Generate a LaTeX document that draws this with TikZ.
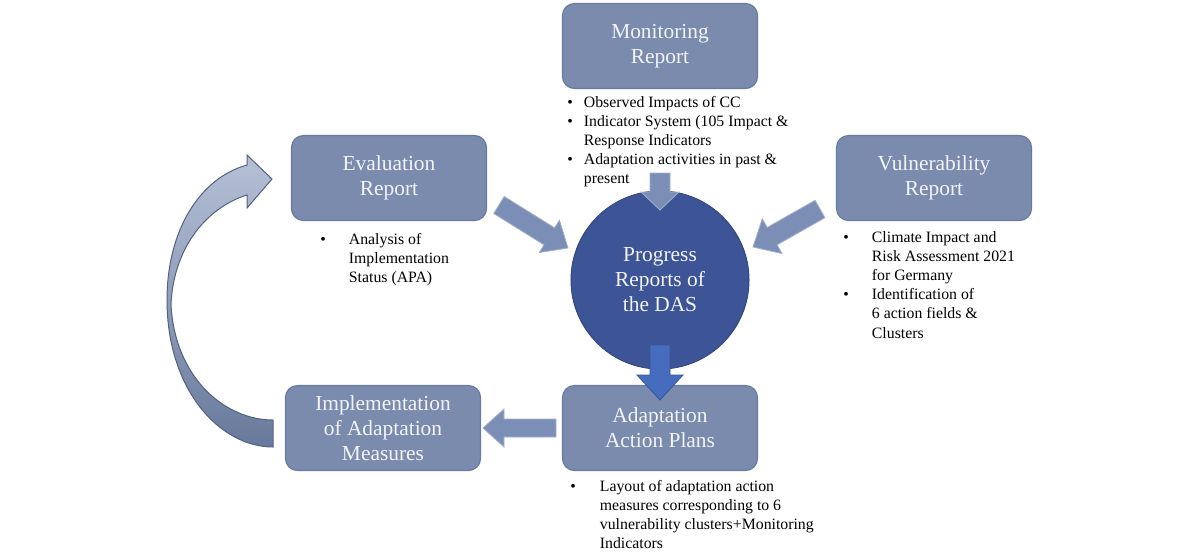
\documentclass[tikz,border=0pt]{standalone}
\usepackage{fontspec}
\setmainfont{Liberation Serif}
\usetikzlibrary{calc}
\definecolor{boxblue}{RGB}{122,139,174}
\definecolor{boxedge}{RGB}{104,123,163}
\definecolor{hubblue}{RGB}{61,84,150}
\definecolor{arrowblue}{RGB}{122,142,182}
\definecolor{downblue}{RGB}{70,108,190}
\definecolor{boxtext}{RGB}{242,244,248}
\tikzset{
  report/.style={
    rectangle,
    rounded corners=6pt,
    fill=boxblue,
    draw=boxedge,
    line width=0.6pt,
    minimum width=97.5pt,
    minimum height=42.5pt,
    align=center,
    text=boxtext,
    font=\fontsize{10.7}{12.5}\selectfont
  },
  hub/.style={circle, fill=hubblue, draw=hubblue!85!black, line width=0.5pt,
    minimum size=89pt, inner sep=0pt, align=center, text=boxtext,
    font=\fontsize{10.7}{12.5}\selectfont},
  notes/.style={anchor=base west, inner sep=0pt, font=\fontsize{7.9}{9.6}\selectfont},
  blockfill/.style={fill=arrowblue, draw=arrowblue!70!white, line width=0.4pt},
  blockdown/.style={fill=downblue, draw=downblue!80!black, line width=0.4pt}
}
% block arrow: [style]{tail}{tip}{shaft half}{head half}{head length}
\newcommand{\blockarrow}[6][blockfill]{
  \coordinate (ba-base) at ($(#3)!#6!(#2)$);
  \path[#1] ($(#2)!#4!90:(#3)$) -- ($(ba-base)!#4!90:(#3)$)
    -- ($(ba-base)!#5!90:(#3)$) -- (#3) -- ($(ba-base)!#5!-90:(#3)$)
    -- ($(ba-base)!#4!-90:(#3)$) -- ($(#2)!#4!-90:(#3)$) -- cycle;
}
\newcommand{\bulletlist}[2]{\begin{tabular}[t]{@{}l@{\hspace{#1}}l@{}}#2\end{tabular}}

\begin{document}
\begin{tikzpicture}[x=0.5pt,y=-0.5pt]
  \useasboundingbox (0,0) rectangle (1200,554);
  % reports
  \node[report] (monitoring) at (660,46) {Monitoring\\Report};
  \node[report] (evaluation) at (389,178) {Evaluation\\Report};
  \node[report] (vulnerability) at (934,178) {Vulnerability\\Report};
  \node[report] (implementation) at (383,428) {Implementation\\of Adaptation\\Measures};
  \node[report] (adaptation) at (660,428) {Adaptation\\Action Plans};
  \node[hub] (progress) at (660,280) {Progress\\Reports of\\the DAS};

  % notes under the reports
  \node[notes] (monitoring-notes) at (567,107) {\bulletlist{5.5pt}{
    \textbullet & Observed Impacts of CC\\
    \textbullet & Indicator System (105 Impact \&\\
                & Response Indicators\\
    \textbullet & Adaptation activities in past \&\\
                & present}};
  \node[notes] (evaluation-notes) at (320,244) {\bulletlist{11.5pt}{
    \textbullet & Analysis of\\
                & Implementation\\
                & Status (APA)}};
  \node[notes] (vulnerability-notes) at (843,242) {\bulletlist{11.5pt}{
    \textbullet & Climate Impact and\\
                & Risk Assessment 2021\\
                & for Germany\\
    \textbullet & Identification of\\
                & 6 action fields \&\\
                & Clusters}};
  \node[notes] (adaptation-notes) at (570,491) {\bulletlist{12pt}{
    \textbullet & Layout of adaptation action\\
                & measures corresponding to 6\\
                & vulnerability clusters+Monitoring\\
                & Indicators}};

  % block arrows
  \coordinate (mon-tail) at (660,173);
  \coordinate (mon-tip) at (660,210);
  \blockarrow{mon-tail}{mon-tip}{5pt}{9.5pt}{9pt}
  \coordinate (eval-tail) at (499,205);
  \coordinate (eval-tip) at (568,248);
  \blockarrow{eval-tail}{eval-tip}{5pt}{9.5pt}{11pt}
  \coordinate (vul-tail) at (820,209);
  \coordinate (vul-tip) at (753,247);
  \blockarrow{vul-tail}{vul-tip}{5pt}{10pt}{11pt}
  \coordinate (hub-tail) at (660,345);
  \coordinate (hub-tip) at (660,400);
  \blockarrow[blockdown]{hub-tail}{hub-tip}{5pt}{11.5pt}{12.5pt}
  \coordinate (plan-tail) at (556,428);
  \coordinate (plan-tip) at (483,428);
  \blockarrow{plan-tail}{plan-tip}{4.5pt}{9.5pt}{10.5pt}

  % curved return arrow
  \path[top color=arrowblue!55!white, bottom color=arrowblue!85!black,
        draw=boxedge!80!black, line width=0.5pt]
    (273,447) .. controls (220,447) and (167,390) .. (167,300)
    .. controls (167,230) and (200,178) .. (247,165)
    -- (247,155) -- (272,179) -- (247,208) -- (247,195)
    .. controls (205,208) and (173,250) .. (171,305)
    .. controls (175,378) and (225,420) .. (273,420) -- cycle;
\end{tikzpicture}
\end{document}
